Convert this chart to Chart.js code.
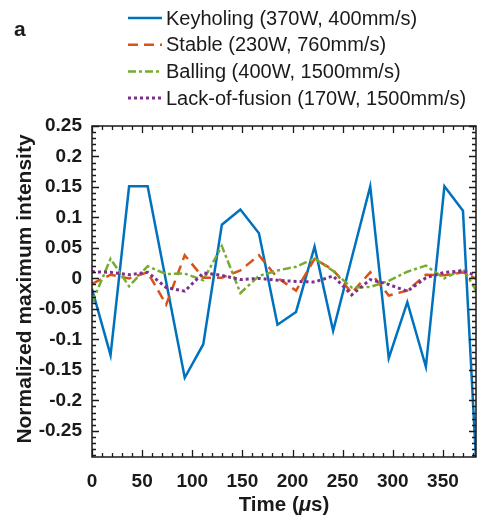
<!DOCTYPE html>
<html>
<head>
<meta charset="utf-8">
<script src="https://cdn.jsdelivr.net/npm/chart.js@4/dist/chart.umd.min.js"></script>
<style>
  body { margin: 0; background: #fff; }
  #wrap { width: 479px; height: 519px; }
</style>
</head>
<body>
<div id="wrap"><canvas id="chart" width="479" height="519"></canvas></div>
<script>
// sample times (us) and the four normalized intensity traces
const times = [0, 18.5, 37, 55.5, 74, 92.5, 111, 129.5, 148, 166.5, 185,
    203.5, 222, 240.5, 259, 277.5, 296, 314.5, 333, 351.5, 370, 388.5];

const keyholing = [-0.017, -0.126, 0.151, 0.151, -0.006, -0.163, -0.108, 0.088, 0.113, 0.074, -0.076,
    -0.055, 0.052, -0.086, 0.033, 0.151, -0.131, -0.039, -0.145, 0.151, 0.111, -0.47];
const stable = [-0.009, 0.006, 0.0, 0.010, -0.043, 0.038, 0.001, 0.001, 0.013, 0.038, 0.001,
    -0.020, 0.032, 0.014, -0.024, 0.010, -0.028, -0.020, 0.006, 0.005, 0.010, -0.005];
const balling = [-0.040, 0.032, -0.013, 0.020, 0.007, 0.008, -0.003, 0.053, -0.024, 0.004, 0.013,
    0.019, 0.033, 0.012, -0.015, -0.014, -0.004, 0.011, 0.021, 0.000, 0.016, -0.035];
const lackOfFusion = [0.011, 0.010, 0.006, 0.010, -0.015, -0.021, 0.009, 0.005, -0.002, 0.000, -0.003,
    -0.005, -0.006, 0.004, -0.027, -0.002, -0.010, -0.021, 0.001, 0.010, 0.012, 0.002];

const seriesNames = ["Keyholing (370W, 400mm/s)", "Stable (230W, 760mm/s)",
    "Balling (400W, 1500mm/s)", "Lack-of-fusion (170W, 1500mm/s)"];

const xTicks = [0, 50, 100, 150, 200, 250, 300, 350];
const yTicks = [0.25, 0.2, 0.15, 0.1, 0.05, 0, -0.05, -0.1, -0.15, -0.2, -0.25];
const yTickLabels = ["0.25", "0.2", "0.15", "0.1", "0.05", "0", "-0.05", "-0.1", "-0.15", "-0.2", "-0.25"];

const X_MIN = 0, X_MAX = 383;
const Y_MIN = -0.293, Y_MAX = 0.25;

const FONT = "'Liberation Sans', Arial, sans-serif";

function toPoints(values) {
    return values.map((v, i) => ({ x: times[i], y: v }));
}

// MATLAB style box with inward major/minor ticks, axis titles, legend and panel letter
const decorPlugin = {
    id: "decor",
    afterDraw(chart) {
        const ctx = chart.ctx;
        const a = chart.chartArea;
        const xs = chart.scales.x, ys = chart.scales.y;
        ctx.save();
        ctx.strokeStyle = "#1a1a1a";
        ctx.lineWidth = 1.5;
        ctx.strokeRect(a.left, a.top, a.right - a.left, a.bottom - a.top);

        ctx.lineWidth = 1.3;
        ctx.beginPath();
        for (let v = 0; v <= X_MAX; v += 10) {
            const px = Math.round(xs.getPixelForValue(v)) + 0.5;
            const len = (v % 50 === 0) ? 7 : 4;
            ctx.moveTo(px, a.bottom); ctx.lineTo(px, a.bottom - len);
            ctx.moveTo(px, a.top); ctx.lineTo(px, a.top + len);
        }
        for (let k = Math.ceil(Y_MIN * 100); k <= Math.floor(Y_MAX * 100); k++) {
            const py = Math.round(ys.getPixelForValue(k / 100)) + 0.5;
            const len = (k % 5 === 0) ? 7 : 4;
            ctx.moveTo(a.left, py); ctx.lineTo(a.left + len, py);
            ctx.moveTo(a.right, py); ctx.lineTo(a.right - len, py);
        }
        ctx.stroke();

        // y title
        ctx.fillStyle = "#1a1a1a";
        ctx.font = "bold 21px " + FONT;
        ctx.textAlign = "center";
        ctx.textBaseline = "middle";
        ctx.save();
        ctx.translate(25, 289);
        ctx.rotate(-Math.PI / 2);
        ctx.fillText("Normalized maximum intensity", 0, 0);
        ctx.restore();

        // x title with italic mu
        const parts = [["Time (", "bold 20.5px " + FONT], ["\u03bc", "italic bold 20.5px " + FONT], ["s)", "bold 20.5px " + FONT]];
        let total = 0;
        parts.forEach(p => { ctx.font = p[1]; total += ctx.measureText(p[0]).width; });
        let cx = (a.left + a.right) / 2 - total / 2;
        ctx.textAlign = "left";
        parts.forEach(p => {
            ctx.font = p[1];
            ctx.fillText(p[0], cx, 505);
            cx += ctx.measureText(p[0]).width;
        });

        // panel letter
        ctx.font = "bold 21px " + FONT;
        ctx.fillText("a", 14, 30);

        // legend
        ctx.font = "20px " + FONT;
        chart.data.datasets.forEach((ds, i) => {
            const y = 18 + i * 26.7;
            ctx.strokeStyle = ds.borderColor;
            ctx.lineWidth = ds.borderWidth;
            ctx.setLineDash(ds.borderDash || []);
            ctx.beginPath();
            ctx.moveTo(128, y); ctx.lineTo(162, y);
            ctx.stroke();
            ctx.setLineDash([]);
            ctx.fillStyle = "#1a1a1a";
            ctx.fillText(ds.label, 166, y + 1);
        });
        ctx.restore();
    }
};

const lineDefaults = { borderWidth: 2.5, pointRadius: 0, tension: 0, fill: false };

new Chart(document.getElementById("chart").getContext("2d"), {
    type: "line",
    data: {
        datasets: [
            { ...lineDefaults, label: seriesNames[0], data: toPoints(keyholing), borderColor: "#0072BD", order: 4 },
            { ...lineDefaults, label: seriesNames[1], data: toPoints(stable), borderColor: "#D95319", borderDash: [10, 6], order: 3 },
            { ...lineDefaults, label: seriesNames[2], data: toPoints(balling), borderColor: "#77AC30", borderDash: [8, 3, 3, 3], order: 2 },
            { ...lineDefaults, label: seriesNames[3], data: toPoints(lackOfFusion), borderColor: "#7E2F8E", borderWidth: 3, borderDash: [3, 3], order: 1 }
        ]
    },
    options: {
        responsive: false,
        animation: false,
        layout: { padding: { left: 0, right: 3, top: 126, bottom: 0 } },
        plugins: { legend: { display: false }, tooltip: { enabled: false } },
        scales: {
            x: {
                type: "linear",
                min: X_MIN, max: X_MAX,
                grid: { display: false, drawTicks: false },
                border: { display: false },
                afterBuildTicks: s => { s.ticks = xTicks.map(v => ({ value: v })); },
                afterFit: s => { s.height = 62; },
                ticks: {
                    padding: 13,
                    color: "#1a1a1a",
                    font: { family: FONT, size: 19, weight: "bold" },
                    maxRotation: 0,
                    callback: v => String(v)
                }
            },
            y: {
                type: "linear",
                min: Y_MIN, max: Y_MAX,
                grid: { display: false, drawTicks: false },
                border: { display: false },
                afterBuildTicks: s => { s.ticks = yTicks.map(v => ({ value: v })); },
                afterFit: s => { s.width = 92; },
                ticks: {
                    padding: 10,
                    color: "#1a1a1a",
                    font: { family: FONT, size: 19, weight: "bold" },
                    callback: (v) => yTickLabels[yTicks.indexOf(v)]
                }
            }
        }
    },
    plugins: [decorPlugin]
});
</script>
</body>
</html>
